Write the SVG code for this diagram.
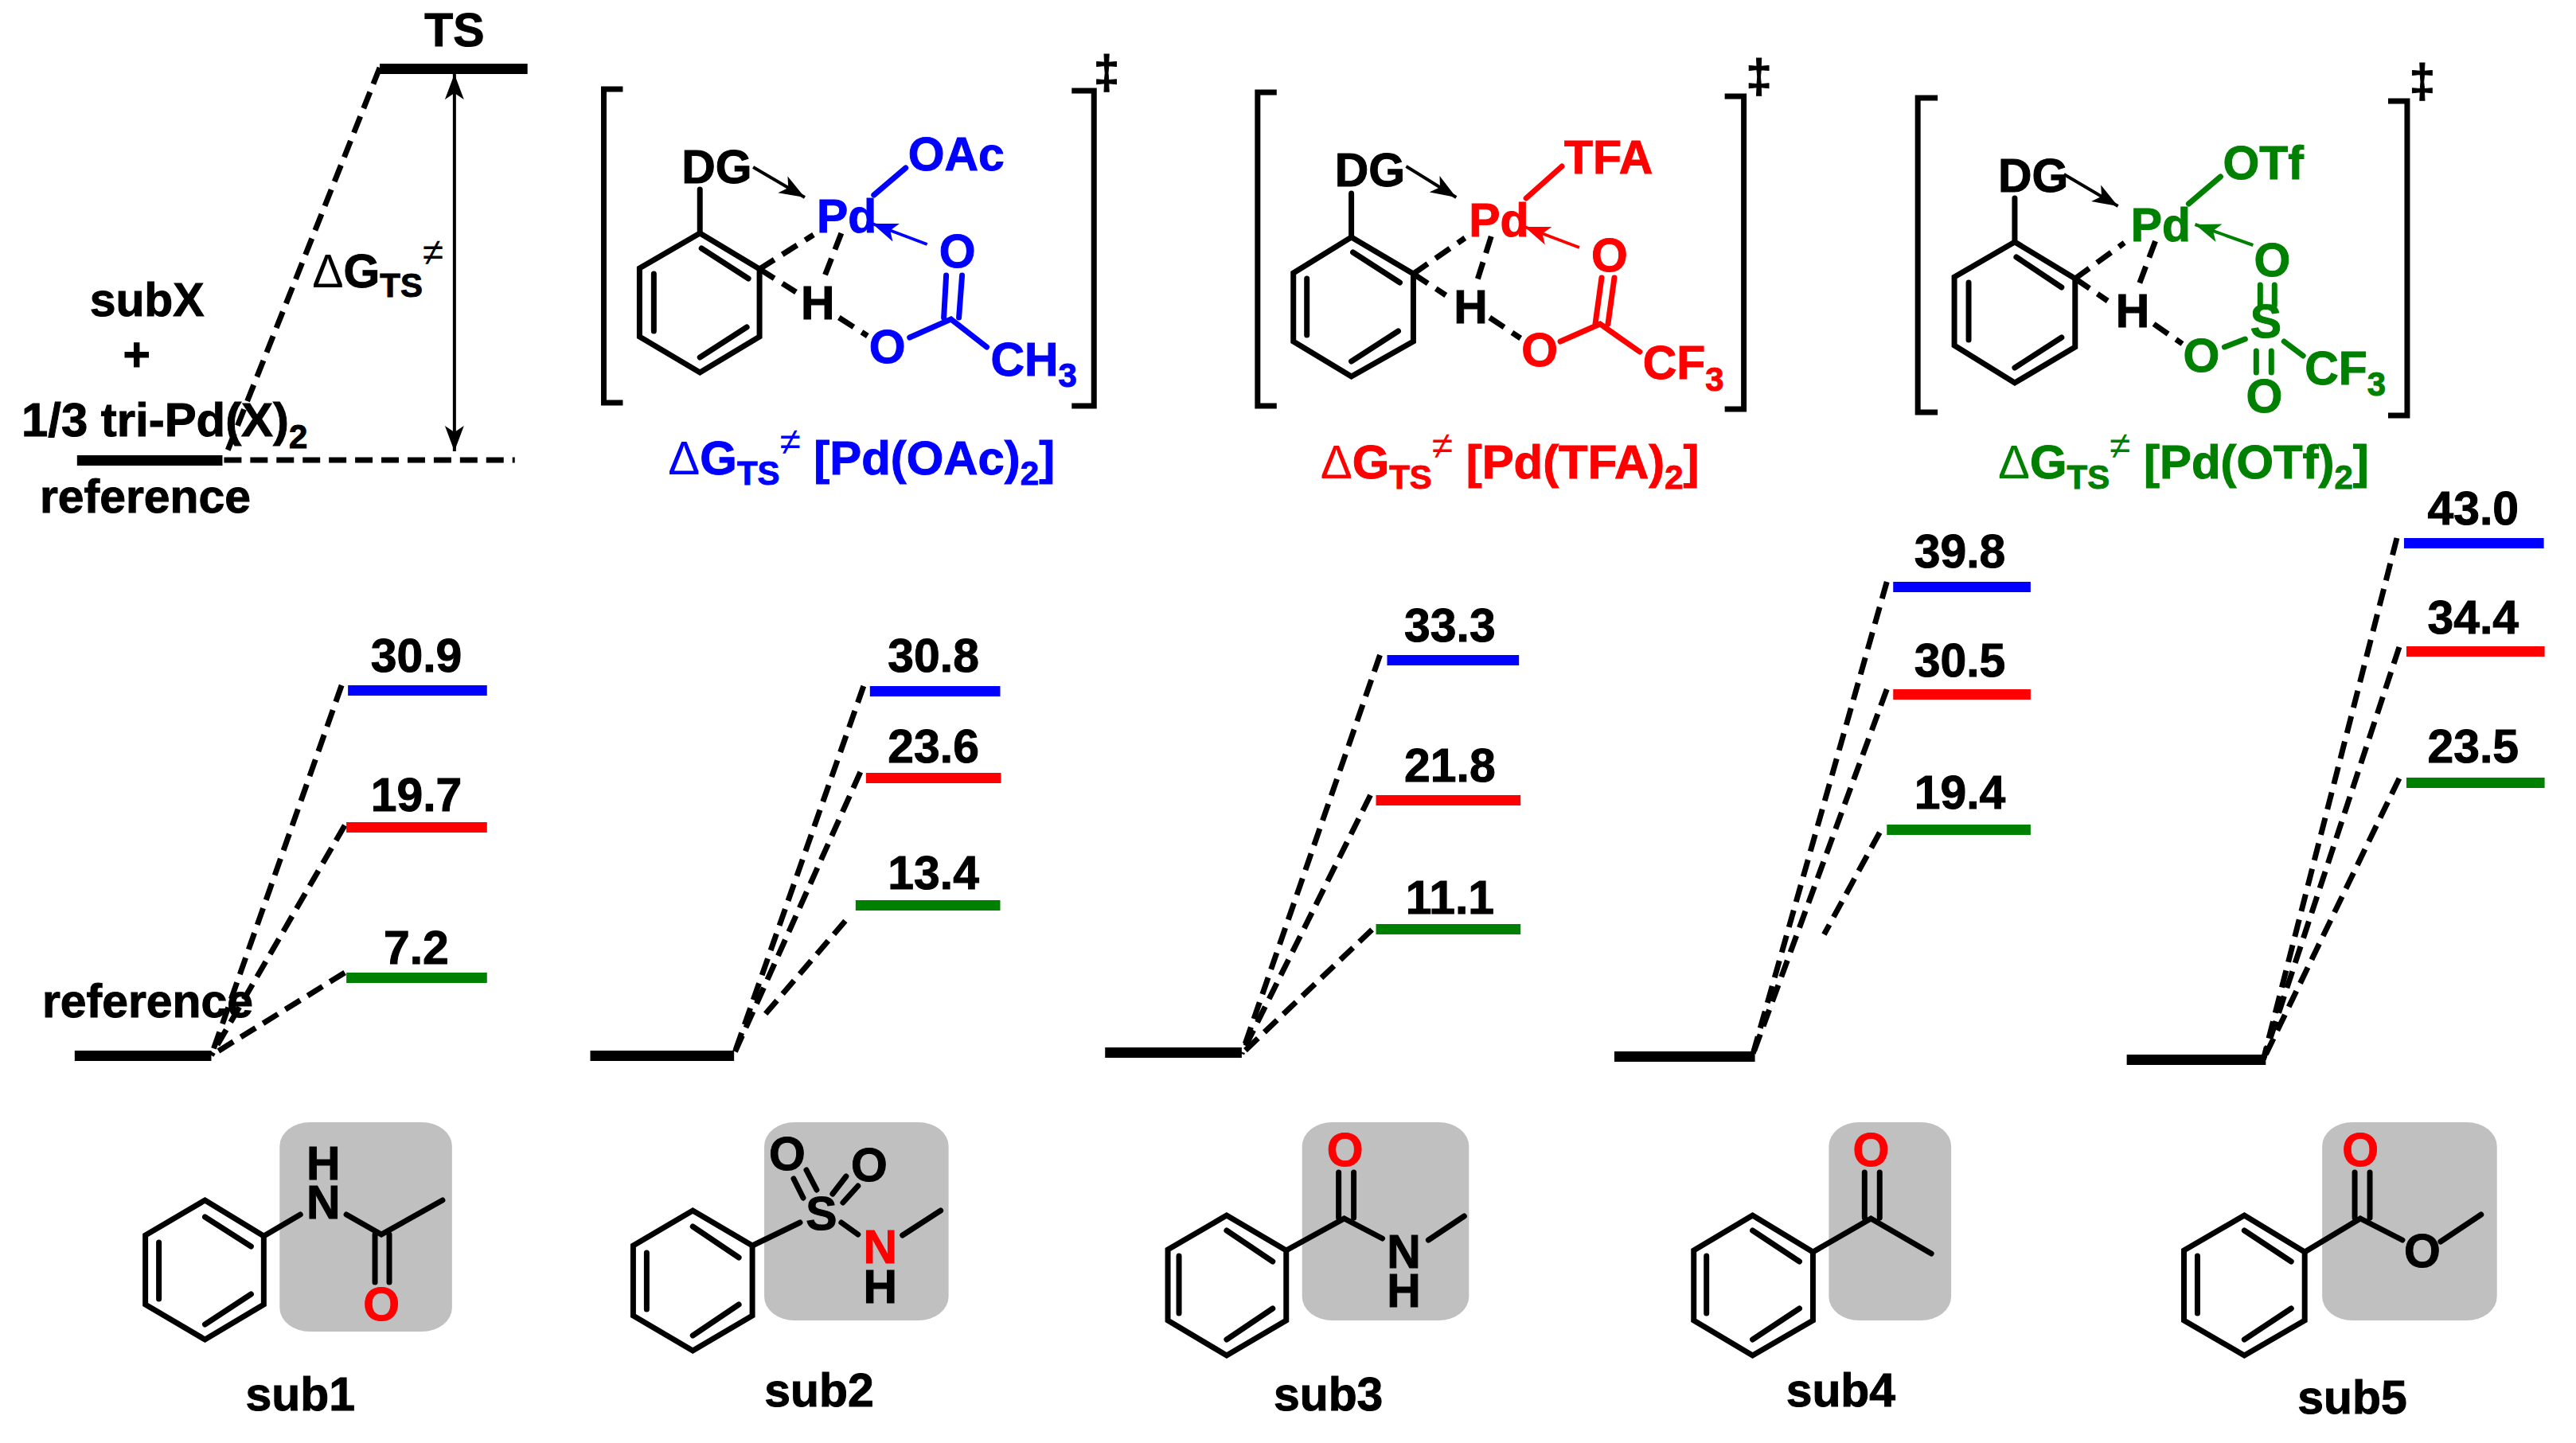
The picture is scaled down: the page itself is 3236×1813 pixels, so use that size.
<svg xmlns="http://www.w3.org/2000/svg" width="3236" height="1813" viewBox="0 0 3236 1813">
<style>
text{font-family:"Liberation Sans",Arial,sans-serif;font-weight:700;font-size:59px;fill:#000;stroke:#000;stroke-width:1}
.m{text-anchor:middle}
.l{font-size:60px}
.blue{fill:#00f;stroke:#00f}.red{fill:#f00;stroke:#f00}.green{fill:#008000;stroke:#008000}
rect.blue,rect.red,rect.green{stroke:none}
.sub{font-size:42px}
.sup{font-size:48px;font-weight:400;stroke-width:0}
.d{font-weight:400;stroke-width:0}
.bk{fill:#000}
.b{stroke:#000;stroke-width:7;fill:none;stroke-linecap:round;stroke-linejoin:miter}
.sb{stroke:#00f}.sr{stroke:#f00}.sg{stroke:#008000}
.dash{stroke:#000;stroke-width:7;fill:none;stroke-dasharray:22 11}
.mdash{stroke:#000;stroke-width:7;fill:none;stroke-dasharray:22 12}
.br{stroke:#000;stroke-width:7;fill:none}
.box{fill:#c0c0c0}
.arr{stroke-width:4;fill:none}
</style>
<defs>
<marker id="ak" markerUnits="userSpaceOnUse" markerWidth="34" markerHeight="26" refX="32" refY="13" orient="auto-start-reverse"><path d="M32 13 L0 1 L8 13 L0 25Z" fill="#000"/></marker>
<marker id="ab" markerUnits="userSpaceOnUse" markerWidth="34" markerHeight="26" refX="32" refY="13" orient="auto"><path d="M32 13 L0 1 L8 13 L0 25Z" fill="#00f"/></marker>
<marker id="ar" markerUnits="userSpaceOnUse" markerWidth="34" markerHeight="26" refX="32" refY="13" orient="auto"><path d="M32 13 L0 1 L8 13 L0 25Z" fill="#f00"/></marker>
<marker id="ag" markerUnits="userSpaceOnUse" markerWidth="34" markerHeight="26" refX="32" refY="13" orient="auto"><path d="M32 13 L0 1 L8 13 L0 25Z" fill="#008000"/></marker>
</defs>
<g transform="scale(.998 1)">
<g id="connectors">
<path class="dash" d="M478 85L283 575"/>
<path class="dash" d="M282 578H648"/>
<path stroke="#000" class="arr" d="M572 93V567" marker-start="url(#ak)" marker-end="url(#ak)"/>
<path class="dash" d="M430 861L266 1326"/><path class="dash" d="M434 1037L266 1326"/><path class="dash" d="M434 1222L266 1326"/>
<path class="dash" d="M1087 862L925 1322"/><path class="dash" d="M1083 970L925 1322"/><path class="dash" d="M1064 1157L960 1278"/>
<path class="dash" d="M1737 823L1563 1324"/><path class="dash" d="M1725 999L1563 1324"/><path class="dash" d="M1727 1168L1563 1324"/>
<path class="dash" d="M2375 731L2206 1326"/><path class="dash" d="M2375 866L2206 1326"/><path class="dash" d="M2366 1046L2296 1174"/>
<path class="dash" d="M3017 676L2849 1331"/><path class="dash" d="M3020 813L2849 1331"/><path class="dash" d="M3020 978L2849 1331"/>
</g>

<g id="legend">
<rect class="bk" x="478" y="80" width="186" height="13"/>
<rect class="bk" x="97" y="572" width="183" height="13"/>
<text class="m" x="572" y="58">TS</text>
<text x="393" y="361"><tspan class="d">Δ</tspan>G<tspan class="sub" dy="12">TS</tspan><tspan class="sup" dy="-40">≠</tspan></text>
<text class="m" x="185" y="397">subX</text>
<text class="m" x="172" y="466">+</text>
<text class="l" x="27" y="548">1/3 tri-Pd(X)<tspan class="sub" dy="15">2</tspan></text>
<text x="50" y="644">reference</text>
</g>

<g id="ts-oac" transform="translate(-3 0)">
<path class="br" d="M787 112H763V506H787"/>
<path class="br" d="M1352 114H1380V510H1352"/>
<text class="m" x="1396" y="111">‡</text>
<g transform="translate(4 0)">
<path class="b" d="M880 293L955 338V423L880 468L804 423V337Z"/>
<path class="b" d="M882 312L941 350M822 344V416M880 449L939 411M880 238V293"/>
</g>
<path stroke="#000" class="arr" d="M951 210L1016 248" marker-end="url(#ak)"/>
<path class="mdash" d="M959 338L1027 295M959 338L1005 367M1062 293L1039 352M1059 399L1095 422"/>
<text x="861" y="230">DG</text><text x="1011" y="401">H</text>
<text class="blue" x="1031" y="292">Pd</text><text class="blue" x="1146" y="214">OAc</text>
<text class="blue m" x="1208" y="336">O</text><text class="blue m" x="1120" y="456">O</text>
<text class="blue" x="1250" y="472">CH<tspan class="sub blue" dy="14">3</tspan></text>
<path class="b sb" d="M1103 245L1143 211M1194 346L1191 399M1214 346L1210 399M1148 424L1200 401L1245 436"/>
<path class="arr sb" d="M1170 307L1101 281" marker-end="url(#ab)"/>
<text class="blue l" x="844" y="596"><tspan class="d blue">Δ</tspan>G<tspan class="sub blue" dy="13">TS</tspan><tspan class="sup blue" dy="-38">≠</tspan><tspan dy="25"> [Pd(OAc)</tspan><tspan class="sub blue" dy="13">2</tspan><tspan dy="-13">]</tspan></text>
</g>

<g id="ts-tfa">
<path class="br" d="M1607 116H1583V510H1607"/>
<path class="br" d="M2171 121H2195V514H2171"/>
<text class="m" x="2214" y="116">‡</text>
<g transform="translate(4 0)">
<path class="b" d="M1697 298L1775 344V429L1697 473L1624 429V343Z"/>
<path class="b" d="M1699 317L1758 355M1641 350V421M1697 454L1756 416M1697 243V298"/>
</g>
<path stroke="#000" class="arr" d="M1770 209L1833 248" marker-end="url(#ak)"/>
<path class="mdash" d="M1779 344L1844 299M1779 344L1820 371M1877 297L1858 357M1875 399L1914 425"/>
<text x="1680" y="234">DG</text><text x="1830" y="406">H</text>
<text class="red" x="1849" y="297">Pd</text><text class="red" x="1969" y="218">TFA</text>
<text class="red m" x="2026" y="341">O</text><text class="red m" x="1938" y="460">O</text>
<text class="red" x="2068" y="476">CF<tspan class="sub red" dy="15">3</tspan></text>
<path class="b sr" d="M1921 249L1966 209M2016 349L2008 407M2032 349L2024 407M1964 429L2014 407L2064 442"/>
<path class="arr sr" d="M1988 311L1919 285" marker-end="url(#ar)"/>
<text class="red l" x="1662" y="601"><tspan class="d red">Δ</tspan>G<tspan class="sub red" dy="13">TS</tspan><tspan class="sup red" dy="-38">≠</tspan><tspan dy="25"> [Pd(TFA)</tspan><tspan class="sub red" dy="13">2</tspan><tspan dy="-13">]</tspan></text>
</g>

<g id="ts-otf">
<path class="br" d="M2439 123H2414V518H2439"/>
<path class="br" d="M3006 127H3030V522H3006"/>
<text class="m" x="3049" y="122">‡</text>
<g transform="translate(4 0)">
<path class="b" d="M2532 304L2608 350V436L2532 481L2456 434V348Z"/>
<path class="b" d="M2534 323L2591 361M2474 355V427M2532 462L2591 424M2532 249V304"/>
</g>
<path stroke="#000" class="arr" d="M2598 219L2666 259" marker-end="url(#ak)"/>
<path class="mdash" d="M2612 350L2674 305M2612 350L2653 378M2713 303L2690 364M2711 407L2747 432"/>
<text x="2515" y="241">DG</text><text x="2663" y="411">H</text>
<text class="green" x="2682" y="303">Pd</text><text class="green" x="2798" y="225">OTf</text>
<text class="green m" x="2860" y="347">O</text><text class="green m" x="2852" y="424">S</text>
<text class="green m" x="2771" y="467">O</text><text class="green m" x="2850" y="518">O</text>
<text class="green" x="2901" y="483">CF<tspan class="sub green" dy="14">3</tspan></text>
<path class="b sg" d="M2755 256L2795 222M2845 358V384M2863 358V384M2800 436L2826 426M2875 429L2899 447M2840 441V468M2859 441V468"/>
<path class="arr sg" d="M2836 308L2763 282" marker-end="url(#ag)"/>
<text class="green l" x="2515" y="601"><tspan class="d green">Δ</tspan>G<tspan class="sub green" dy="13">TS</tspan><tspan class="sup green" dy="-38">≠</tspan><tspan dy="25"> [Pd(OTf)</tspan><tspan class="sub green" dy="13">2</tspan><tspan dy="-13">]</tspan></text>
</g>

<g id="levels-sub1">
<rect class="bk" x="94" y="1320" width="172" height="13"/>
<rect class="blue" x="438" y="861" width="175" height="13"/><rect class="red" x="436" y="1033" width="177" height="13"/><rect class="green" x="436" y="1222" width="177" height="13"/>
<text class="m" x="524" y="844">30.9</text><text class="m" x="524" y="1019">19.7</text><text class="m" x="524" y="1211">7.2</text>
<text x="53" y="1278">reference</text>
</g>
<g id="levels-sub2">
<rect class="bk" x="743" y="1320" width="181" height="13"/>
<rect class="blue" x="1095" y="862" width="164" height="13"/><rect class="red" x="1090" y="971" width="170" height="13"/><rect class="green" x="1077" y="1131" width="182" height="13"/>
<text class="m" x="1175" y="844">30.8</text><text class="m" x="1175" y="958">23.6</text><text class="m" x="1175" y="1117">13.4</text>
</g>
<g id="levels-sub3" transform="translate(3 0)">
<rect class="bk" x="1388" y="1316" width="172" height="13"/>
<rect class="blue" x="1743" y="823" width="166" height="13"/><rect class="red" x="1729" y="999" width="182" height="13"/><rect class="green" x="1729" y="1161" width="182" height="13"/>
<text class="m" x="1822" y="806">33.3</text><text class="m" x="1822" y="982">21.8</text><text class="m" x="1822" y="1148">11.1</text>
</g>
<g id="levels-sub4" transform="translate(3 0)">
<rect class="bk" x="2029" y="1321" width="177" height="13"/>
<rect class="blue" x="2380" y="731" width="173" height="13"/><rect class="red" x="2380" y="866" width="173" height="13"/><rect class="green" x="2372" y="1036" width="181" height="13"/>
<text class="m" x="2464" y="713">39.8</text><text class="m" x="2464" y="850">30.5</text><text class="m" x="2464" y="1016">19.4</text>
</g>
<g id="levels-sub5" transform="translate(2 0)">
<rect class="bk" x="2675" y="1325" width="175" height="13"/>
<rect class="blue" x="3024" y="676" width="176" height="13"/><rect class="red" x="3027" y="812" width="174" height="13"/><rect class="green" x="3027" y="977" width="174" height="13"/>
<text class="m" x="3111" y="659">43.0</text><text class="m" x="3111" y="796">34.4</text><text class="m" x="3111" y="958">23.5</text>
</g>

<g id="sub1">
<rect class="box" x="352" y="1410" width="217" height="263" rx="38" ry="30"/>
<path class="b" d="M258 1508L332 1553V1639L258 1683L183 1639V1552Z"/>
<path class="b" d="M258 1529L316 1566M200 1561V1632M258 1664L316 1626M332 1553L378 1526M436 1526L480 1551L557 1508M472 1551V1611M490 1551V1611"/>
<text class="m" x="407" y="1531">N</text><text class="m" x="407" y="1482">H</text>
<text class="m red" x="480" y="1659">O</text>
<text class="m" x="378" y="1772">sub1</text>
</g>
<g id="sub2" transform="translate(-1 0)">
<rect class="box" x="963" y="1410" width="232" height="249" rx="38" ry="30"/>
<path class="b" d="M873 1521L948 1565V1653L873 1697L798 1653V1565Z"/>
<path class="b" d="M873 1541L931 1580M815 1574V1645M873 1678L931 1639M948 1565L1008 1536M1000 1481L1012 1505M1016 1470L1029 1495M1066 1478L1049 1500M1081 1490L1062 1511M1060 1536L1081 1551M1137 1552L1185 1521"/>
<text class="m" x="1035" y="1545">S</text><text class="m" x="992" y="1470">O</text><text class="m" x="1095" y="1484">O</text>
<text class="m red" x="1109" y="1587">N</text><text class="m" x="1109" y="1637">H</text>
<text class="m" x="1032" y="1767">sub2</text>
</g>
<g id="sub3" transform="translate(2 0)">
<rect class="box" x="1637" y="1410" width="210" height="249" rx="38" ry="30"/>
<path class="b" d="M1542 1527L1617 1571V1659L1542 1703L1468 1659V1570Z"/>
<path class="b" d="M1542 1546L1600 1585M1482 1578V1650M1542 1683L1600 1644M1617 1571L1690 1531L1738 1556M1683 1473V1530M1702 1473V1530M1796 1558L1841 1528"/>
<text class="m red" x="1691" y="1465">O</text><text class="m" x="1765" y="1593">N</text><text class="m" x="1765" y="1642">H</text>
<text class="m" x="1670" y="1772">sub3</text>
</g>
<g id="sub4" transform="translate(2 0)">
<rect class="box" x="2300" y="1410" width="154" height="249" rx="38" ry="30"/>
<path class="b" d="M2204 1527L2280 1573V1659L2204 1703L2130 1659V1571Z"/>
<path class="b" d="M2204 1546L2263 1585M2146 1578V1650M2204 1683L2263 1644M2280 1573L2353 1531L2429 1575M2345 1473V1530M2364 1473V1530"/>
<text class="m red" x="2353" y="1465">O</text>
<text class="m" x="2315" y="1767">sub4</text>
</g>
<g id="sub5" transform="translate(2 0)">
<rect class="box" x="2921" y="1410" width="220" height="249" rx="38" ry="30"/>
<path class="b" d="M2823 1527L2899 1573V1659L2823 1703L2747 1659V1571Z"/>
<path class="b" d="M2823 1546L2882 1585M2764 1578V1650M2823 1683L2882 1644M2899 1573L2969 1531L3022 1558M2962 1473V1530M2981 1473V1530M3070 1560L3121 1526"/>
<text class="m red" x="2969" y="1465">O</text><text class="m" x="3047" y="1592">O</text>
<text class="m" x="2959" y="1776">sub5</text>
</g>
</g>
</svg>
